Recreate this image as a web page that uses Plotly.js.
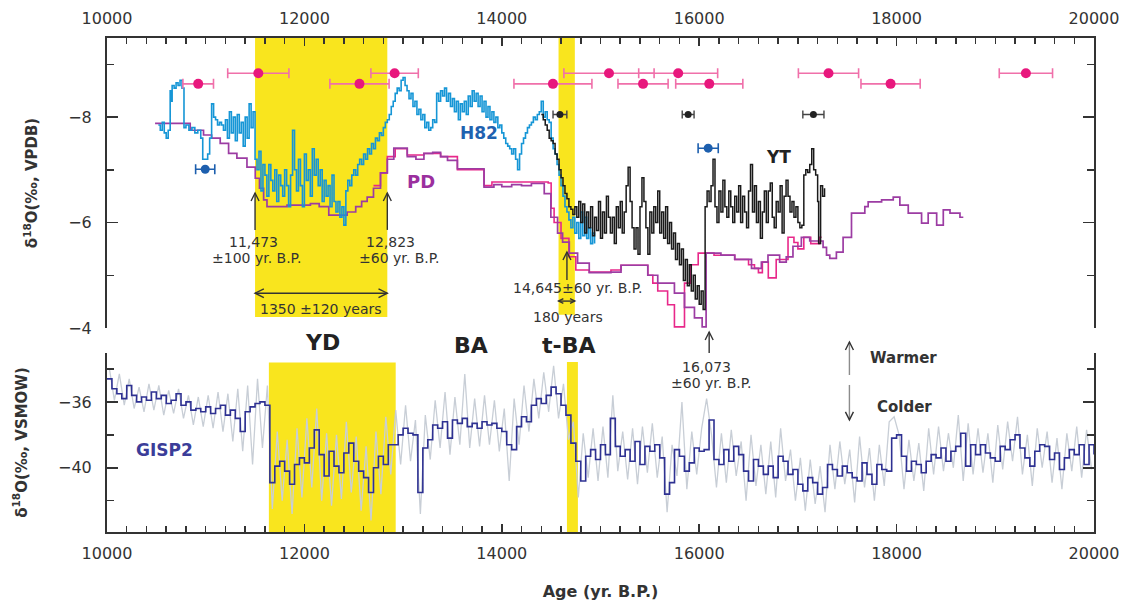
<!DOCTYPE html>
<html><head><meta charset="utf-8">
<script src="https://cdn.plot.ly/plotly-3.0.1.min.js"></script>
<style>body{margin:0;background:#fff}#chart{width:1131px;height:608px}</style>
</head><body><div id="chart"></div>
<script>
// ---------------- DATA ----------------
// Hulu H82 stalagmite (top panel)
const h82Age = [10520,10540,10560,10580,10600,10620,10640,10650,10660,10680,10700,10720,10740,10760,10780,10800,10830,10860,10890,10920,10950,10970,10990,11020,11040,11060,11080,11100,11120,11140,11160,11180,11200,11220,11240,11260,11280,11300,11320,11340,11360,11380,11400,11420,11440,11460,11480,
11500,11520,11540,11560,11580,11600,11620,11640,11660,11680,
11700,11720,11740,11760,11780,11800,11820,11840,11860,11880,
11900,11920,11940,11960,11980,12000,12020,12040,12060,12080,
12100,12120,12140,12160,12180,12200,12220,12240,12260,12280,
12300,12320,12340,12360,12380,12400,12420,12440,12460,12480,
12500,12520,12540,12560,12580,12600,12620,12640,12660,12680,
12700,12720,12740,12760,12780,12800,12820,12840,12860,12880,
12900,12920,12940,12960,12980,13000,13020,13040,13060,13080,
13100,13120,13140,13160,13180,13200,13220,13240,13260,13280,
13300,13320,13340,13360,13380,13400,13420,13440,13460,13480,
13500,13520,13540,13560,13580,13600,13620,13640,13660,13680,
13700,13720,13740,13760,13780,13800,13820,13840,13860,13880,
13900,13920,13940,13960,13980,14000,14020,14040,14060,14080,
14100,14120,14140,14160,14180,14200,14220,14240,14260,14280,
14300,14320,14340,14360,14380,14400,14420,14440,14460,14480,
14500,14520,14540,14560,14580,14600,14620,14640,14660,14680,
14700,14720,14740,14760,14780,14800,14820,14840,14860,14880,
14900,14920,14940];
const h82Val = [-7.85,-7.75,-7.9,-7.7,-7.6,-7.75,-8.5,-8.3,-8.6,-8.55,-8.65,-8.6,-8.7,-8.55,-7.8,-7.85,-7.75,-7.8,-7.7,-7.75,-7.6,-7.2,-7.2,-7.3,-7.6,-8.25,-8.0,-7.95,-7.85,-7.9,-7.85,-7.75,-7.95,-7.6,-8.1,-7.7,-8.0,-7.55,-8.05,-7.7,-7.9,-7.45,-8.0,-7.6,-8.25,-7.8,-8.1,
-7.2,-7.0,-7.35,-6.6,-7.1,-6.9,-6.5,-7.1,-6.8,-6.6,
-7.0,-6.4,-6.9,-6.7,-6.5,-7.0,-6.7,-6.3,-6.9,-7.75,
-7.0,-6.6,-7.2,-6.7,-6.3,-7.3,-6.8,-7.0,-6.5,-7.4,
-6.9,-7.2,-6.7,-7.0,-6.4,-6.8,-6.5,-6.7,-6.3,-6.9,
-6.4,-6.2,-6.4,-6.1,-6.3,-5.95,-6.6,-6.8,-6.7,-6.9,
-7.0,-6.9,-7.1,-7.2,-7.1,-7.3,-7.2,-7.4,-7.3,-7.5,
-7.4,-7.6,-7.55,-7.7,-7.65,-7.8,-7.9,-7.95,-8.05,-8.2,
-8.3,-8.45,-8.55,-8.5,-8.7,-8.75,-8.6,-8.5,-8.35,-8.45,
-8.2,-8.3,-8.05,-8.15,-7.95,-8.05,-7.8,-7.9,-7.75,-7.8,
-7.95,-7.9,-8.45,-8.3,-8.5,-8.4,-8.55,-8.3,-8.45,-8.2,
-8.35,-8.1,-8.3,-7.95,-8.25,-8.1,-8.3,-8.05,-8.4,-8.2,
-8.5,-8.3,-8.45,-8.2,-8.4,-8.1,-8.3,-8.0,-8.2,-7.95,
-8.1,-7.9,-8.0,-7.8,-7.85,-7.7,-7.6,-7.5,-7.45,-7.4,
-7.3,-7.4,-7.2,-7.0,-7.3,-7.5,-7.6,-7.7,-7.8,-7.85,
-7.9,-8.0,-7.95,-8.05,-8.1,-8.3,-8.0,-8.1,-7.95,-7.9,
-7.6,-7.4,-7.3,-7.1,-6.9,-6.7,-6.5,-6.3,-6.2,-6.05,
-5.9,-6.1,-5.8,-6.0,-5.7,-6.2,-5.75,-6.1,-5.7,-5.9,
-5.6,-5.8,-5.6];

// PD stalagmite (purple)
const pdAge = [10487,10843,10978,11060,11147,11232,11316,11418,11502,11545,11587,11621,11824,12061,12150,12247,12433,12520,12580,12636,12700,12771,12840,12906,13042,13130,13211,13300,13380,13450,13550,13820,13920,14000,14100,14200,14300,14430,14497,14565,14616,14684,14768,14886,15106,15208,15479,15580,15749,15851,15952,16030,16070,16220,16360,16530,16630,16697,16815,16882,16950,17035,17120,17255,17290,17323,17390,17458,17543,17678,17712,17848,17966,18033,18118,18253,18320,18406,18473,18541,18642,18676];
const pdVal = [-7.88,-7.75,-7.66,-7.6,-7.5,-7.31,-7.22,-7.05,-6.84,-6.65,-6.43,-6.3,-6.33,-6.36,-6.3,-6.14,-6.2,-6.3,-6.4,-6.48,-6.65,-6.94,-7.2,-7.41,-7.25,-7.2,-7.31,-7.33,-7.25,-7.18,-7.02,-6.67,-6.72,-6.68,-6.72,-6.7,-6.74,-6.55,-6.1,-5.8,-5.63,-5.42,-5.23,-5.05,-5.06,-5.19,-5.0,-4.85,-4.66,-4.39,-4.19,-4.02,-5.42,-5.38,-5.3,-5.13,-5.25,-5.38,-5.25,-5.35,-5.55,-5.72,-5.65,-5.53,-5.38,-5.32,-5.44,-5.72,-6.18,-6.3,-6.39,-6.43,-6.48,-6.33,-6.18,-5.99,-6.18,-5.95,-6.24,-6.18,-6.1,-6.1];

// second PD record (pink)
const pd2Age = [12700,12771,12840,12920,13042,13211,13380,13550,13820,13900,14200,14470,14500,14530,14600,14680,14750,14886,15106,15208,15479,15530,15580,15680,15749,15851,15910,15990,16150,16360,16500,16560,16600,16640,16700,16780,16850,16900,16960,17000,17060,17130,17221,17240];
const pd2Val = [-6.7,-6.94,-7.25,-7.4,-7.28,-7.31,-7.25,-7.0,-6.7,-6.77,-6.77,-6.75,-6.27,-6.0,-5.7,-5.35,-5.1,-5.06,-5.1,-5.19,-5.0,-4.85,-4.7,-4.44,-4.02,-4.85,-5.2,-5.42,-5.38,-5.3,-5.2,-5.13,-5.05,-5.25,-4.95,-5.3,-5.3,-5.72,-5.62,-5.5,-5.72,-5.6,-5.72,-5.72];

// YT record (black)
const ytAge = [14400,14420,14440,14460,14480,14500,14520,14540,14560,14580,
14600,14620,14640,14660,14680,14700,14720,14740,14760,14780,
14800,14820,14840,14860,14880,14900,14920,14940,14960,14980,
15000,15020,15040,15060,15080,15100,15120,15140,15160,15180,
15200,15220,15240,15260,15280,15300,15320,15340,15360,15380,
15400,15420,15440,15460,15480,15500,15520,15540,15560,15580,
15600,15620,15640,15660,15680,15700,15720,15740,15760,15780,
15800,15820,15840,15860,15880,15900,15920,15940,15960,15980,
16000,16020,16040,16060,16080,16100,16120,16140,16160,16180,
16200,16220,16240,16260,16280,16300,16320,16340,16360,16380,
16400,16420,16440,16460,16480,16500,16520,16540,16560,16580,
16600,16620,16640,16660,16680,16700,16720,16740,16760,16780,
16800,16820,16840,16860,16880,16900,16920,16940,16960,16980,
17000,17020,17040,17060,17080,17100,17120,17140,17160,17180,
17200,17210,17230,17250,17270];
const ytVal = [-8.05,-7.95,-7.85,-7.75,-7.6,-7.55,-7.5,-7.3,-7.2,-7.0,
-6.85,-6.7,-6.55,-6.45,-6.3,-6.25,-6.15,-6.3,-6.1,-6.4,
-6.0,-6.35,-5.8,-6.2,-5.9,-6.3,-5.75,-6.1,-5.85,-6.4,
-5.7,-6.2,-5.8,-6.5,-6.1,-5.8,-6.1,-5.6,-6.3,-5.9,
-6.4,-5.8,-6.2,-6.7,-7.05,-6.4,-5.9,-5.5,-5.9,-5.4,
-6.3,-6.85,-6.4,-5.9,-5.4,-6.2,-5.8,-6.3,-6.0,-6.6,
-5.8,-6.2,-5.7,-6.3,-5.6,-6.0,-5.5,-5.8,-5.3,-5.6,
-5.2,-5.5,-4.9,-5.3,-4.8,-5.2,-4.7,-5.0,-4.55,-4.8,
-4.45,-4.7,-4.35,-6.3,-6.6,-6.4,-6.7,-7.2,-6.3,-6.0,
-6.6,-6.2,-6.8,-6.3,-6.1,-6.6,-6.3,-6.0,-6.5,-6.2,
-6.7,-6.0,-6.5,-6.2,-5.9,-6.6,-7.1,-6.2,-6.7,-6.0,
-6.4,-5.7,-6.2,-6.6,-6.0,-6.6,-6.75,-6.1,-5.9,-6.4,
-6.2,-6.7,-5.8,-6.5,-6.8,-6.5,-6.2,-6.4,-6.1,-6.3,
-6.0,-5.9,-5.95,-6.9,-7.0,-6.95,-7.1,-7.4,-7.0,-6.9,
-6.4,-5.6,-6.7,-6.5,-6.65];

// U/Th dates with 2-sigma errors
const pinkDateAge = [10924,11533,12558,12914,14518,15086,15787,15431,16102,17310,17939,19310];
const pinkDateVal = [-8.63,-8.83,-8.63,-8.83,-8.63,-8.83,-8.83,-8.63,-8.63,-8.83,-8.63,-8.83];
const pinkDateErr = [155,310,300,240,395,457,400,254,340,305,300,270];
const blackDateAge = [14589,15888,17157];
const blackDateVal = [-8.05,-8.05,-8.05];
const blackDateErr = [70,60,107];
const blueDateAge = [10995,16091];
const blueDateVal = [-7.01,-7.41];
const blueDateErr = [97,102];

// GISP2 ice core (bottom panel)
const gispAge = [10000,10050,10100,10150,10200,10250,10300,10350,10400,10450,
10500,10550,10600,10650,10700,10750,10800,10850,10900,10950,
11000,11050,11100,11150,11200,11250,11300,11350,11400,11450,
11500,11550,11600,11650,11700,11750,11800,11850,11900,11950,
12000,12050,12100,12150,12200,12250,12300,12350,12400,12450,
12500,12550,12600,12650,12700,12750,12800,12850,12900,12950,
13000,13050,13100,13150,13200,13250,13300,13350,13400,13450,
13500,13550,13600,13650,13700,13750,13800,13850,13900,13950,
14000,14050,14100,14150,14200,14250,14300,14350,14400,14450,
14500,14550,14600,14650,14700,14750,14800,14850,14900,14950,
15000,15050,15100,15150,15200,15250,15300,15350,15400,15450,
15500,15550,15600,15650,15700,15750,15800,15850,15900,15950,
16000,16050,16100,16150,16200,16250,16300,16350,16400,16450,
16500,16550,16600,16650,16700,16750,16800,16850,16900,16950,
17000,17050,17100,17150,17200,17250,17300,17350,17400,17450,
17500,17550,17600,17650,17700,17750,17800,17850,17900,17950,
18000,18050,18100,18150,18200,18250,18300,18350,18400,18450,
18500,18550,18600,18650,18700,18750,18800,18850,18900,18950,
19000,19050,19100,19150,19200,19250,19300,19350,19400,19450,
19500,19550,19600,19650,19700,19750,19800,19850,19900,19950,
20000];
const gispVal = [-34.6,-35.2,-35.5,-35.8,-35.0,-35.6,-36.0,-35.7,-35.9,-35.4,
-35.8,-35.6,-36.1,-35.9,-35.5,-36.2,-36.0,-36.5,-36.4,-36.6,
-36.3,-36.7,-36.4,-36.2,-36.8,-36.5,-37.0,-37.8,-36.6,-36.3,
-36.1,-36.0,-36.2,-40.9,-39.9,-39.6,-40.2,-41.0,-39.8,-39.4,
-39.7,-38.8,-37.7,-39.2,-40.5,-39.0,-39.9,-40.3,-39.1,-38.5,
-39.6,-40.2,-40.6,-41.5,-40.0,-39.3,-39.8,-38.6,-38.6,-38.0,
-37.6,-37.9,-38.0,-41.5,-38.8,-38.3,-37.4,-37.6,-37.2,-38.2,
-37.1,-37.3,-37.0,-37.5,-37.3,-37.6,-37.2,-37.4,-37.3,-37.6,
-37.8,-38.6,-38.9,-37.5,-36.9,-37.2,-36.2,-35.8,-36.1,-35.6,
-35.1,-35.5,-36.2,-36.8,-38.5,-39.6,-40.8,-39.3,-38.9,-39.5,
-38.6,-39.2,-37.0,-38.7,-39.3,-38.9,-39.6,-38.4,-39.8,-38.7,
-39.0,-38.6,-39.4,-41.6,-40.9,-38.9,-39.3,-40.2,-39.7,-38.8,
-39.0,-38.9,-37.1,-39.5,-39.8,-38.9,-39.6,-38.7,-39.2,-40.2,
-40.8,-39.5,-39.9,-40.4,-39.9,-40.6,-39.3,-39.6,-40.4,-40.1,
-41.0,-41.4,-40.6,-40.9,-41.6,-41.2,-39.8,-40.1,-40.5,-39.9,
-40.3,-40.6,-40.8,-39.7,-40.4,-41.0,-39.8,-40.1,-40.2,-38.2,
-38.0,-39.3,-40.2,-39.6,-39.8,-40.3,-39.6,-39.2,-39.4,-38.8,
-39.6,-39.0,-38.7,-37.9,-39.9,-38.6,-39.2,-38.6,-39.1,-39.4,
-39.6,-38.7,-38.9,-38.3,-38.0,-38.8,-39.4,-39.9,-39.0,-38.6,
-38.7,-39.5,-39.1,-40.1,-39.4,-38.9,-39.2,-38.6,-39.8,-38.6,
-39.2];
// GISP2 raw (high resolution, grey)
const gispRawAge = [10025,10075,10125,10175,10225,10275,10325,10375,10425,10475,
10525,10575,10625,10675,10725,10775,10825,10875,10925,10975,
11025,11075,11125,11175,11225,11275,11325,11375,11425,11475,
11525,11575,11625,11675,11725,11775,11825,11875,11925,11975,
12025,12075,12125,12175,12225,12275,12325,12375,12425,12475,
12525,12575,12625,12675,12725,12775,12825,12875,12925,12975,
13025,13075,13125,13175,13225,13275,13325,13375,13425,13475,
13525,13575,13625,13675,13725,13775,13825,13875,13925,13975,
14025,14075,14125,14175,14225,14275,14325,14375,14425,14475,
14525,14575,14625,14675,14725,14775,14825,14875,14925,14975,
15025,15075,15125,15175,15225,15275,15325,15375,15425,15475,
15525,15575,15625,15675,15725,15775,15825,15875,15925,15975,
16025,16075,16125,16175,16225,16275,16325,16375,16425,16475,
16525,16575,16625,16675,16725,16775,16825,16875,16925,16975,
17025,17075,17125,17175,17225,17275,17325,17375,17425,17475,
17525,17575,17625,17675,17725,17775,17825,17875,17925,17975,
18025,18075,18125,18175,18225,18275,18325,18375,18425,18475,
18525,18575,18625,18675,18725,18775,18825,18875,18925,18975,
19025,19075,19125,19175,19225,19275,19325,19375,19425,19475,
19525,19575,19625,19675,19725,19775,19825,19875,19925,19975];
const gispRawVal = [-34.0,-35.9,-34.3,-36.2,-34.6,-36.4,-35.1,-36.6,-34.9,-36.5,
-35.0,-36.8,-35.3,-36.7,-35.2,-37.0,-35.6,-37.4,-35.7,-37.5,
-35.6,-37.6,-35.4,-37.8,-35.5,-38.4,-35.2,-39.0,-35.0,-39.8,
-34.6,-38.8,-35.0,-42.5,-37.8,-42.0,-38.3,-42.8,-37.6,-41.8,
-37.0,-41.2,-36.4,-42.0,-37.9,-42.3,-38.0,-41.9,-37.2,-41.5,
-38.1,-42.6,-38.7,-43.2,-37.8,-41.6,-36.9,-40.4,-36.5,-39.8,
-36.2,-39.6,-37.1,-42.8,-36.8,-39.5,-35.9,-38.8,-35.4,-39.2,
-35.7,-38.6,-34.3,-38.8,-35.8,-38.7,-35.6,-38.6,-35.9,-39.0,
-36.4,-40.8,-35.8,-38.6,-35.0,-37.8,-34.6,-37.0,-34.2,-36.6,
-33.8,-37.0,-34.9,-38.3,-37.2,-41.8,-37.9,-40.6,-37.6,-40.8,
-37.5,-40.6,-35.6,-40.2,-37.8,-40.7,-37.6,-41.0,-37.5,-40.3,
-37.3,-40.6,-38.1,-42.7,-38.6,-40.5,-36.0,-41.3,-37.8,-40.4,
-37.6,-35.8,-38.0,-41.2,-37.9,-40.9,-37.7,-40.5,-38.4,-42.0,
-38.0,-41.1,-38.6,-41.6,-38.4,-41.8,-37.6,-40.8,-38.9,-42.0,
-39.4,-42.6,-39.5,-42.2,-39.9,-42.7,-38.6,-41.3,-38.4,-41.0,
-38.9,-42.1,-38.1,-41.2,-38.8,-42.0,-38.6,-41.1,-37.2,-36.9,
-38.0,-41.3,-38.3,-40.8,-38.5,-41.4,-37.6,-40.4,-37.5,-40.2,
-37.9,-40.0,-36.8,-40.8,-37.3,-40.4,-37.6,-40.3,-37.9,-40.9,
-37.4,-40.1,-37.2,-39.6,-36.9,-40.4,-38.0,-41.1,-37.6,-40.0,
-37.8,-40.9,-38.2,-41.3,-37.9,-40.2,-37.5,-40.6,-37.7,-40.1];

// Event intervals (YD and t-BA) in each record's chronology
const ydCave = [11500, 12840];
const tbaCave = [14575, 14740];
const ydIce = [11640, 12925];
const tbaIce = [14660, 14771];

// ---------------- PLOT ----------------
const FONT = '"DejaVu Sans", Arial, sans-serif';
const AX = '#333';
const YELLOW = '#f9e51e';

const traces = [
  {x: gispRawAge, y: gispRawVal, xaxis:'x', yaxis:'y', mode:'lines', line:{color:'#c8ced6', width:1.3}, hoverinfo:'skip'},
  {x: gispAge, y: gispVal, xaxis:'x', yaxis:'y', mode:'lines', line:{color:'#2e3192', width:1.6, shape:'hv'}},
  {x: pd2Age, y: pd2Val, xaxis:'x2', yaxis:'y2', mode:'lines', line:{color:'#e8288a', width:1.6, shape:'hv'}},
  {x: pdAge, y: pdVal, xaxis:'x2', yaxis:'y2', mode:'lines', line:{color:'#9c3ca3', width:1.7, shape:'hv'}},
  {x: h82Age, y: h82Val, xaxis:'x2', yaxis:'y2', mode:'lines', line:{color:'#1696d6', width:1.6, shape:'hv'}},
  {x: ytAge, y: ytVal, xaxis:'x2', yaxis:'y2', mode:'lines', line:{color:'#1a1a1a', width:1.5, shape:'hv'}},
  {x: pinkDateAge, y: pinkDateVal, xaxis:'x2', yaxis:'y2', mode:'markers',
   marker:{color:'#e8177d', size:10},
   error_x:{type:'data', array:pinkDateErr, color:'#f070aa', thickness:1.6, width:5}},
  {x: blackDateAge, y: blackDateVal, xaxis:'x2', yaxis:'y2', mode:'markers',
   marker:{color:'#222', size:7},
   error_x:{type:'data', array:blackDateErr, color:'#444', thickness:1.4, width:4}},
  {x: blueDateAge, y: blueDateVal, xaxis:'x2', yaxis:'y2', mode:'markers',
   marker:{color:'#1d5fae', size:9},
   error_x:{type:'data', array:blueDateErr, color:'#1d5fae', thickness:1.6, width:5}}
];

const xCommon = {
  range:[10000,20000], showline:true, linecolor:AX, linewidth:2,
  ticks:'inside', ticklen:8, tickwidth:1.6, tickcolor:AX,
  tick0:10000, dtick:2000, tickformat:'d', showgrid:false, zeroline:false,
  minor:{dtick:200, ticks:'inside', ticklen:6, tickwidth:1.5, tickcolor:AX, showgrid:false},
  tickfont:{family:FONT, size:16, color:'#333'}
};
const yCommon = {
  showline:true, linecolor:AX, linewidth:2, mirror:'ticks',
  ticks:'inside', ticklen:11, tickwidth:1.8, tickcolor:AX,
  showgrid:false, zeroline:false,
  tickfont:{family:FONT, size:16, color:'#333'}, ticklabelstandoff:10
};

const layout = {
  width:1131, height:608,
  margin:{l:107, r:37, t:38, b:76},
  paper_bgcolor:'#fff', plot_bgcolor:'rgba(0,0,0,0)',
  showlegend:false,
  font:{family:FONT, size:14, color:'#333'},
  xaxis: Object.assign({}, xCommon, {anchor:'y', side:'bottom', ticklabelstandoff:6,
    title:{text:'<b>Age (yr. B.P.)</b>', font:{family:FONT, size:16, color:'#333'}, standoff:24}}),
  xaxis2: Object.assign({}, xCommon, {anchor:'y2', side:'top', ticklabelstandoff:6}),
  yaxis: Object.assign({}, yCommon, {domain:[0,0.3623], range:[-43.9,-33.03], anchor:'x',
    tick0:-36, dtick:4,
    minor:{dtick:2, tick0:-36, ticks:'inside', ticklen:7, tickwidth:1.5, tickcolor:AX},
    title:{text:'<b>δ<sup>18</sup>O(‰, VSMOW)</b>', font:{family:FONT, size:15, color:'#333'}, standoff:27}}),
  yaxis2: Object.assign({}, yCommon, {domain:[0.413,1], range:[-4,-9.5], anchor:'x2',
    tick0:-8, dtick:2,
    minor:{dtick:1, tick0:-8, ticks:'inside', ticklen:7, tickwidth:1.5, tickcolor:AX},
    title:{text:'<b>δ<sup>18</sup>O(‰, VPDB)</b>', font:{family:FONT, size:15, color:'#333'}, standoff:27}}),
  shapes: [
    {type:'rect', xref:'x2', yref:'y2', x0:ydCave[0], x1:ydCave[1], y0:-9.5, y1:-4.21, fillcolor:YELLOW, line:{width:0}, layer:'below'},
    {type:'rect', xref:'x2', yref:'y2', x0:tbaCave[0], x1:tbaCave[1], y0:-9.5, y1:-4.25, fillcolor:YELLOW, line:{width:0}, layer:'below'},
    {type:'rect', xref:'x', yref:'y', x0:ydIce[0], x1:ydIce[1], y0:-43.9, y1:-33.6, fillcolor:YELLOW, line:{width:0}, layer:'below'},
    {type:'rect', xref:'x', yref:'y', x0:tbaIce[0], x1:tbaIce[1], y0:-43.9, y1:-33.58, fillcolor:YELLOW, line:{width:0}, layer:'below'}
  ],
  annotations: []
};

function txt(xref, yref, x, y, text, size, color, bold) {
  layout.annotations.push({xref, yref, x, y, text: bold ? '<b>'+text+'</b>' : text, showarrow:false,
    font:{family:FONT, size, color}, xanchor:'center', yanchor:'middle'});
}
// arrow head: small open chevron, sized in pixels, tip at (x, y)
function head(xref, yref, x, y, dir, color, s) {
  s = s || 1;
  const a = 8*s, b = 4*s;
  const paths = {
    up:   `M${-b},${-a}L0,0L${b},${-a}`,
    down: `M${-b},${a}L0,0L${b},${a}`,
    left: `M${a},${b}L0,0L${a},${-b}`,
    right:`M${-a},${b}L0,0L${-a},${-b}`
  };
  layout.shapes.push({type:'path', xref, yref, xsizemode:'pixel', ysizemode:'pixel',
    xanchor:x, yanchor:y, path:paths[dir], line:{color, width:1.4}, fillcolor:'rgba(0,0,0,0)'});
}
function vArrow(xref, yref, x, yTail, yHead, dir, color, headColor) {
  layout.shapes.push({type:'line', xref, yref, x0:x, x1:x, y0:yTail, y1:yHead, line:{color, width:1.4}});
  head(xref, yref, x, yHead, dir, headColor || color);
}
function hArrow2(xref, yref, x0, x1, y, s) {
  layout.shapes.push({type:'line', xref, yref, x0, x1, y0:y, y1:y, line:{color:'#333', width:1.4}});
  head(xref, yref, x0, y, 'left', '#333', s);
  head(xref, yref, x1, y, 'right', '#333', s);
}

// top panel labels
txt('x2','y2', 13766, -7.70, 'H82', 17, '#1f62b0', true);
txt('x2','y2', 13178, -6.77, 'PD', 18, '#9b2f9e', true);
txt('x2','y2', 16802, -7.24, 'YT', 17, '#222', true);
vArrow('x2','y2', 11500, -5.86, -6.56, 'up', '#333');
vArrow('x2','y2', 12840, -5.86, -6.56, 'up', '#333');
txt('x2','y2', 11482, -5.63, '11,473', 14, '#333');
txt('x2','y2', 11513, -5.32, '±100 yr. B.P.', 14, '#333');
txt('x2','y2', 12873, -5.63, '12,823', 14, '#333');
txt('x2','y2', 12954, -5.32, '±60 yr. B.P.', 14, '#333');
hArrow2('x2','y2', ydCave[0], ydCave[1], -4.66, 1.1);
txt('x2','y2', 12172, -4.36, '1350 ±120 years', 14, '#333');
vArrow('x2','y2', 14660, -4.91, -5.44, 'up', '#333');
txt('x2','y2', 14771, -4.76, '14,645±60 yr. B.P.', 14, '#333');
hArrow2('x2','y2', tbaCave[0], tbaCave[1], -4.51, 0.6);
txt('x2','y2', 14670, -4.21, '180 years', 14, '#333');

// between panels / bottom panel labels (paper y: 0 = bottom axis, 1 = top axis)
txt('x','paper', 12183, 0.3826, 'YD', 22, '#222', true);
txt('x','paper', 13685, 0.3785, 'BA', 22, '#222', true);
txt('x','paper', 14680, 0.3785, 't-BA', 22, '#222', true);
vArrow('x','paper', 16101, 0.3623, 0.4049, 'up', '#333');
txt('x','y', 16071, -33.88, '16,073', 14, '#333');
txt('x','y', 16122, -34.85, '±60 yr. B.P.', 14, '#333');
vArrow('x','paper', 17522, 0.3178, 0.3846, 'up', '#8c8c8c', '#333');
vArrow('x','y', 17522, -34.97, -37.09, 'down', '#8c8c8c', '#333');
txt('x','y', 18071, -33.33, 'Warmer', 15, '#333', true);
txt('x','y', 18081, -36.3, 'Colder', 15, '#333', true);
txt('x','y', 10579, -38.9, 'GISP2', 17, '#3b3d99', true);

Plotly.newPlot('chart', traces, layout, {displayModeBar:false, staticPlot:true});
</script></body></html>
